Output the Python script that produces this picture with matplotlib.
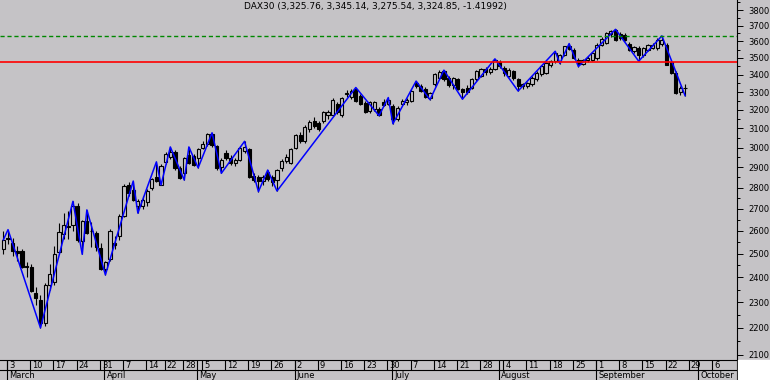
import numpy as np
import pandas as pd
import matplotlib
matplotlib.use('Agg')
import matplotlib.pyplot as plt
from matplotlib.patches import Rectangle
from matplotlib.ticker import FixedLocator, FixedFormatter, NullFormatter

plt.rcParams['font.family'] = ['Liberation Sans Narrow', 'DejaVu Sans']

# Xetra trading calendar, holidays taken out
holidays = ['2003-04-18', '2003-04-21', '2003-05-01']
days = pd.bdate_range('2003-02-28', '2003-10-17')
days = days[~days.isin(pd.to_datetime(holidays))]

# daily OHLC, one row per week (Feb 28 .. Sep 26)
opens = [2519,
         2568, 2547, 2512, 2512, 2447,
         2444, 2335, 2310, 2217, 2369,
         2380, 2505, 2584, 2620, 2625,
         2715, 2555, 2643, 2600, 2591,
         2522, 2434, 2476, 2548, 2576,
         2665, 2812, 2790, 2715, 2711,
         2730, 2797, 2853, 2815,
         2927, 2950, 2977, 2898,
         2870, 2964, 2955, 2947,
         3000, 3020, 3070, 3010, 2900,
         2972, 2947, 2920, 2935, 2980,
         2990, 2855, 2850, 2832, 2878,
         2850, 2837, 2895, 2930, 2920,
         2995, 3065, 3032, 3095, 3140,
         3130, 3142, 3170, 3175, 3235,
         3175, 3290, 3272, 3318, 3278,
         3240, 3196, 3205, 3205, 3245,
         3235, 3224, 3151, 3233, 3245,
         3250, 3354, 3335, 3320, 3268,
         3344, 3383, 3420, 3380, 3338,
         3373, 3316, 3325, 3325, 3373,
         3395, 3431, 3416, 3431, 3478,
         3441, 3395, 3422, 3373, 3335,
         3335, 3344, 3373, 3402, 3412,
         3455, 3480, 3480, 3520, 3572,
         3550, 3490, 3462, 3485, 3490,
         3500, 3580, 3590, 3645, 3672,
         3645, 3640, 3585, 3540, 3560,
         3520, 3550, 3562, 3560, 3585,
         3580, 3478, 3412, 3300, 3325.76]
highs = [2598,
         2605, 2569, 2533, 2520, 2462,
         2455, 2360, 2327, 2375, 2455,
         2533, 2635, 2680, 2690, 2735,
         2725, 2650, 2695, 2640, 2600,
         2545, 2470, 2610, 2576, 2675,
         2820, 2825, 2832, 2745, 2760,
         2795, 2845, 2927, 2915,
         2975, 3003, 2985, 2905,
         2950, 3003, 2965, 3000,
         3035, 3075, 3077, 3015, 2945,
         2985, 2960, 2945, 3010, 3032,
         3000, 2870, 2860, 2860, 2886,
         2860, 2890, 2940, 2965, 3000,
         3070, 3080, 3120, 3145, 3160,
         3140, 3195, 3200, 3265, 3245,
         3275, 3310, 3315, 3326, 3290,
         3250, 3250, 3250, 3215, 3260,
         3269, 3235, 3220, 3260, 3265,
         3320, 3363, 3345, 3330, 3300,
         3410, 3425, 3427, 3390, 3385,
         3380, 3325, 3340, 3380, 3425,
         3440, 3445, 3445, 3494, 3490,
         3450, 3440, 3430, 3380, 3350,
         3360, 3390, 3420, 3455, 3475,
         3490, 3540, 3522, 3575, 3587,
         3560, 3500, 3495, 3510, 3535,
         3590, 3625, 3660, 3672, 3676,
         3660, 3650, 3595, 3575, 3570,
         3565, 3585, 3590, 3620, 3635,
         3590, 3485, 3420, 3335, 3345.14]
lows = [2497,
        2540, 2490, 2470, 2440, 2403,
        2340, 2290, 2200, 2208, 2347,
        2370, 2497, 2562, 2562, 2600,
        2552, 2497, 2585, 2530, 2510,
        2430, 2410, 2470, 2519, 2560,
        2660, 2760, 2735, 2680, 2700,
        2715, 2790, 2825, 2813,
        2915, 2940, 2885, 2840,
        2837, 2915, 2905, 2897,
        2990, 3010, 3005, 2885, 2870,
        2935, 2910, 2905, 2930, 2970,
        2845, 2825, 2781, 2815, 2830,
        2810, 2784, 2880, 2920, 2915,
        2990, 3025, 3025, 3080, 3100,
        3085, 3130, 3150, 3165, 3180,
        3160, 3275, 3260, 3245, 3225,
        3185, 3185, 3195, 3169, 3220,
        3225, 3125, 3140, 3225, 3230,
        3245, 3325, 3300, 3265, 3257,
        3335, 3375, 3365, 3330, 3320,
        3310, 3260, 3290, 3315, 3365,
        3385, 3400, 3405, 3425, 3440,
        3395, 3385, 3370, 3306, 3320,
        3325, 3335, 3365, 3395, 3405,
        3445, 3470, 3466, 3510, 3545,
        3495, 3448, 3455, 3475, 3480,
        3490, 3570, 3585, 3630, 3605,
        3610, 3600, 3540, 3530, 3480,
        3505, 3540, 3555, 3550, 3575,
        3455, 3405, 3290, 3283, 3275.54]
closes = [2557,
          2562, 2512, 2503, 2445, 2443,
          2343, 2316, 2217, 2367, 2414,
          2497, 2594, 2625, 2616, 2715,
          2557, 2643, 2591, 2597, 2529,
          2434, 2462, 2600, 2537, 2665,
          2810, 2775, 2742, 2736, 2742,
          2785, 2840, 2832, 2905,
          2965, 2978, 2894, 2847,
          2944, 2919, 2910, 2994,
          3020, 3068, 3012, 2894, 2935,
          2945, 2920, 2935, 3000, 3003,
          2853, 2837, 2832, 2850, 2840,
          2825, 2886, 2930, 2950, 2994,
          3063, 3032, 3110, 3135, 3115,
          3095, 3187, 3190, 3258, 3190,
          3268, 3292, 3305, 3252, 3233,
          3190, 3245, 3243, 3175, 3228,
          3258, 3151, 3212, 3251, 3255,
          3305, 3335, 3307, 3270, 3295,
          3402, 3418, 3375, 3338, 3378,
          3320, 3300, 3300, 3373, 3420,
          3431, 3416, 3435, 3488, 3450,
          3412, 3428, 3383, 3335, 3344,
          3354, 3383, 3412, 3450, 3470,
          3480, 3530, 3515, 3570, 3552,
          3500, 3462, 3485, 3500, 3528,
          3580, 3615, 3650, 3665, 3611,
          3620, 3608, 3548, 3568, 3515,
          3558, 3580, 3580, 3612, 3610,
          3460, 3412, 3297, 3326, 3324.85]

# zigzag turning points (position in the calendar, level)
zz_pos = [0, 1, 8, 15, 17, 18, 22, 28, 29, 33, 34, 36, 39, 40, 42, 45, 47,
          52, 55, 57, 59, 76, 81, 83, 84, 89, 92, 95, 99, 106, 111, 119,
          120, 122, 124, 132, 137, 142, 147]
zz_val = [2560, 2605, 2200, 2735, 2497, 2695, 2410, 2832, 2680, 2927, 2813,
          3003, 2837, 3003, 2897, 3077, 2870, 3032, 2781, 2886, 2784, 3326,
          3169, 3269, 3125, 3363, 3257, 3427, 3260, 3494, 3306, 3540, 3466,
          3587, 3448, 3676, 3480, 3635, 3280]

resistance = 3476
upper_line = 3635
title = 'DAX30 (3,325.76, 3,345.14, 3,275.54, 3,324.85, -1.41992)'

bg = '#c5c3c6'
W, H = 770, 380
x_left, x_right = -0.73, 158.2

o = np.array(opens)
h = np.array(highs)
l = np.array(lows)
c = np.array(closes)
x = np.arange(len(c))
up = c >= o

fig = plt.figure(figsize=(W / 100, H / 100), dpi=100, facecolor=bg)
ax = fig.add_axes([0, 20 / H, 737 / W, 360 / H])
ax.set_facecolor(bg)
ax.set_yscale('log')
ax.set_ylim(2082, 3866)
ax.set_xlim(x_left, x_right)

ax.vlines(x, l, h, color='black', lw=0.8, zorder=2)
ax.bar(x, np.abs(c - o), bottom=np.minimum(o, c), width=0.68,
       color=np.where(up, bg, 'black'), edgecolor='black', linewidth=0.8, zorder=3)
ax.plot(zz_pos, zz_val, color='#0000ff', lw=1.1, zorder=4)
ax.axhline(resistance, color='#ff0000', lw=1.2, zorder=5)
ax.axhline(upper_line, color='#008800', lw=1.0, dashes=(3, 2), zorder=5)

major = np.arange(2100, 3801, 100)
minor = np.arange(2150, 3851, 100)
ax.yaxis.tick_right()
ax.yaxis.set_major_locator(FixedLocator(major))
ax.yaxis.set_major_formatter(FixedFormatter([str(v) for v in major]))
ax.yaxis.set_minor_locator(FixedLocator(minor))
ax.yaxis.set_minor_formatter(NullFormatter())
ax.tick_params(axis='y', which='major', direction='out', length=4.3, width=0.7,
               pad=4, labelsize=6)
ax.tick_params(axis='y', which='minor', direction='out', length=2.2, width=0.7)
ax.tick_params(axis='x', bottom=False, labelbottom=False)
for s in ['top', 'left', 'bottom']:
    ax.spines[s].set_visible(False)
ax.spines['right'].set_linewidth(0.8)

fig.text(375 / W, 1 - 7 / H, title, ha='center', va='center', fontsize=6.5)

# date strip under the chart: weeks on top row, months below
sx = fig.add_axes([0, 0, 737 / W, 20 / H])
sx.set_facecolor(bg)
sx.set_xlim(x_left, x_right)
sx.set_ylim(0, 1)
sx.set_xticks([])
sx.set_yticks([])
for s in ['left', 'bottom']:
    sx.spines[s].set_visible(False)
sx.spines['top'].set_linewidth(0.8)
sx.spines['right'].set_linewidth(0.8)
sx.axhline(0.5, color='black', lw=0.8)

week = days.isocalendar().week.values
for i in range(1, len(days)):
    if i > x_right - 0.5:
        break
    if week[i] != week[i - 1]:
        sx.vlines(i - 0.2, 0.5, 1, color='black', lw=0.8)
        sx.text(i + 0.25, 0.74, str(days[i].day), fontsize=6, ha='left', va='center',
                clip_on=True)
    if days[i].month != days[i - 1].month:
        sx.vlines(i - 0.2, 0, 1, color='black', lw=0.8)
        sx.text(i + 0.25, 0.24, days[i].strftime('%B'), fontsize=6, ha='left',
                va='center', clip_on=True)

fig.patches.append(Rectangle((737.5 / W, 0), 1, 20 / H, transform=fig.transFigure,
                             color='white', zorder=0))

fig.savefig('out.png', dpi=100, facecolor=bg)
